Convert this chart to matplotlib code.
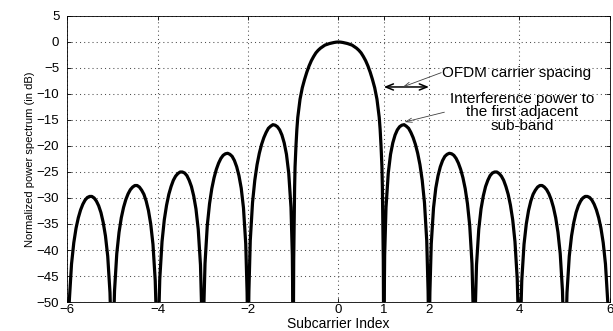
import matplotlib

matplotlib.use("Agg")
import matplotlib.pyplot as plt

plt.rcParams["font.family"] = ["Liberation Sans", "DejaVu Sans"]

# curve: subcarrier index vs normalized power (dB)
# (nulls go below the -50 dB floor and are clipped by the axes)
subcarrier = [
    -6.0, -5.98, -5.95, -5.9, -5.85, -5.8, -5.75, -5.7, -5.65, -5.6, -5.55,
    -5.5, -5.45, -5.4, -5.35, -5.3, -5.25, -5.2, -5.15, -5.1, -5.05, -5.02,
    -5.0, -4.98, -4.95, -4.9, -4.85, -4.8, -4.75, -4.7, -4.65, -4.6, -4.55,
    -4.5, -4.45, -4.4, -4.35, -4.3, -4.25, -4.2, -4.15, -4.1, -4.05, -4.02,
    -4.0, -3.98, -3.95, -3.9, -3.85, -3.8, -3.75, -3.7, -3.65, -3.6, -3.55,
    -3.5, -3.45, -3.4, -3.35, -3.3, -3.25, -3.2, -3.15, -3.1, -3.05, -3.02,
    -3.0, -2.98, -2.95, -2.9, -2.85, -2.8, -2.75, -2.7, -2.65, -2.6, -2.55,
    -2.5, -2.45, -2.4, -2.35, -2.3, -2.25, -2.2, -2.15, -2.1, -2.05, -2.02,
    -2.0, -1.98, -1.95, -1.9, -1.85, -1.8, -1.75, -1.7, -1.65, -1.6, -1.55,
    -1.5, -1.45, -1.4, -1.35, -1.3, -1.25, -1.2, -1.15, -1.1, -1.05, -1.02,
    -1.0, -0.99, -0.97, -0.96, -0.94, -0.92, -0.9, -0.85, -0.8, -0.75, -0.7, -0.65,
    -0.6, -0.55, -0.5, -0.45, -0.4, -0.35, -0.3, -0.25, -0.2, -0.15, -0.1, -0.05,
    0.0,
    0.05, 0.1, 0.15, 0.2, 0.25, 0.3, 0.35, 0.4, 0.45, 0.5, 0.55, 0.6,
    0.65, 0.7, 0.75, 0.8, 0.85, 0.9, 0.92, 0.94, 0.96, 0.97, 0.99,
    1.0, 1.02, 1.05, 1.1, 1.15, 1.2, 1.25, 1.3, 1.35, 1.4, 1.45,
    1.5, 1.55, 1.6, 1.65, 1.7, 1.75, 1.8, 1.85, 1.9, 1.95, 1.98,
    2.0, 2.02, 2.05, 2.1, 2.15, 2.2, 2.25, 2.3, 2.35, 2.4, 2.45,
    2.5, 2.55, 2.6, 2.65, 2.7, 2.75, 2.8, 2.85, 2.9, 2.95, 2.98,
    3.0, 3.02, 3.05, 3.1, 3.15, 3.2, 3.25, 3.3, 3.35, 3.4, 3.45,
    3.5, 3.55, 3.6, 3.65, 3.7, 3.75, 3.8, 3.85, 3.9, 3.95, 3.98,
    4.0, 4.02, 4.05, 4.1, 4.15, 4.2, 4.25, 4.3, 4.35, 4.4, 4.45,
    4.5, 4.55, 4.6, 4.65, 4.7, 4.75, 4.8, 4.85, 4.9, 4.95, 4.98,
    5.0, 5.02, 5.05, 5.1, 5.15, 5.2, 5.25, 5.3, 5.35, 5.4, 5.45,
    5.5, 5.55, 5.6, 5.65, 5.7, 5.75, 5.8, 5.85, 5.9, 5.95, 5.98,
    6.0,
]
power_db = [
    -60, -59.4, -49.9, -42.7, -38.6, -35.8, -33.8, -32.3, -31.2, -30.4, -29.9,
    -29.7, -29.7, -30.0, -30.6, -31.5, -32.8, -34.7, -37.3, -41.2, -48.2, -57.6,
    -60, -57.5, -47.9, -40.7, -36.6, -33.8, -31.8, -30.3, -29.2, -28.4, -27.9,
    -27.6, -27.6, -27.9, -28.5, -29.3, -30.6, -32.4, -35.0, -38.9, -45.9, -55.3,
    -60, -55.2, -45.6, -38.4, -34.2, -31.4, -29.3, -27.8, -26.6, -25.8, -25.3,
    -25.0, -25.0, -25.2, -25.7, -26.6, -27.8, -29.6, -32.1, -36.0, -42.9, -52.3,
    -60, -52.2, -42.6, -35.3, -31.1, -28.2, -26.1, -24.5, -23.3, -22.4, -21.8,
    -21.5, -21.4, -21.6, -22.0, -22.8, -24.0, -25.7, -28.1, -31.9, -38.8, -48.1,
    -60, -47.9, -38.2, -30.9, -26.6, -23.6, -21.4, -19.7, -18.4, -17.4, -16.6,
    -16.2, -15.9, -16.0, -16.3, -16.9, -17.9, -19.4, -21.6, -25.2, -31.8, -41.0,
    -60, -42, -28, -24, -20, -16.8, -14.5, -11, -8.8, -7.2, -5.8, -4.6,
    -3.6, -2.8, -2.1, -1.6, -1.2, -0.9, -0.6, -0.45, -0.3, -0.2, -0.1, -0.03,
    0.0,
    -0.03, -0.1, -0.2, -0.3, -0.45, -0.6, -0.9, -1.2, -1.6, -2.1, -2.8, -3.6,
    -4.6, -5.8, -7.2, -8.8, -11, -14.5, -16.8, -20, -24, -28, -42,
    -60, -41.0, -31.8, -25.2, -21.6, -19.4, -17.9, -16.9, -16.3, -16.0, -15.9,
    -16.2, -16.6, -17.4, -18.4, -19.7, -21.4, -23.6, -26.6, -30.9, -38.2, -47.9,
    -60, -48.1, -38.8, -31.9, -28.1, -25.7, -24.0, -22.8, -22.0, -21.6, -21.4,
    -21.5, -21.8, -22.4, -23.3, -24.5, -26.1, -28.2, -31.1, -35.3, -42.6, -52.2,
    -60, -52.3, -42.9, -36.0, -32.1, -29.6, -27.8, -26.6, -25.7, -25.2, -25.0,
    -25.0, -25.3, -25.8, -26.6, -27.8, -29.3, -31.4, -34.2, -38.4, -45.6, -55.2,
    -60, -55.3, -45.9, -38.9, -35.0, -32.4, -30.6, -29.3, -28.5, -27.9, -27.6,
    -27.6, -27.9, -28.4, -29.2, -30.3, -31.8, -33.8, -36.6, -40.7, -47.9, -57.5,
    -60, -57.6, -48.2, -41.2, -37.3, -34.7, -32.8, -31.5, -30.6, -30.0, -29.7,
    -29.7, -29.9, -30.4, -31.2, -32.3, -33.8, -35.8, -38.6, -42.7, -49.9, -59.4,
    -60,
]
assert len(subcarrier) == len(power_db)

x_ticks = [-6, -4, -2, 0, 1, 2, 4, 6]
y_ticks = [-50, -45, -40, -35, -30, -25, -20, -15, -10, -5, 0, 5]


def _minus(v):
    return str(v).replace("-", "\u2212")


fig = plt.figure(figsize=(6.13, 3.31), dpi=100)
ax = fig.add_axes([0.1093, 0.0876, 0.8858, 0.8641])

ax.plot(subcarrier, power_db, color="black", lw=2.3,
        solid_joinstyle="round", solid_capstyle="round")

ax.set_xlim(-6, 6)
ax.set_ylim(-50, 5)
ax.set_xticks(x_ticks)
ax.set_yticks(y_ticks)
ax.set_xticklabels([_minus(v) for v in x_ticks])
ax.set_yticklabels([_minus(v) for v in y_ticks])
ax.grid(True, linestyle=(0, (1, 3)), color="0.3", lw=0.75)
ax.tick_params(direction="in", length=3, width=0.6, top=True, right=True,
               labelsize=9.5)
ax.tick_params(axis="x", pad=1.5)
ax.tick_params(axis="y", pad=5.5)
for sp in ax.spines.values():
    sp.set_linewidth(0.6)

ax.set_xlabel("Subcarrier Index", fontsize=10, va="center")
ax.xaxis.set_label_coords(0.5, -0.078)
ax.set_ylabel("Normalized power spectrum (in dB)", fontsize=8, labelpad=1)

# carrier spacing double arrow + callouts
ax.annotate("", xy=(1.0, -8.65), xytext=(2.0, -8.65),
            arrowprops=dict(arrowstyle="<->, head_width=0.22, head_length=0.55",
                            color="black", lw=1.1, shrinkA=0, shrinkB=0))
ax.annotate("", xy=(1.42, -8.65), xytext=(2.27, -5.9),
            arrowprops=dict(arrowstyle="->, head_width=0.15, head_length=0.45",
                            color="0.25", lw=0.6, shrinkA=0, shrinkB=0))
ax.text(2.28, -5.95, "OFDM carrier spacing", fontsize=11,
        ha="left", va="center")

ax.annotate("", xy=(1.46, -15.4), xytext=(2.34, -13.5),
            arrowprops=dict(arrowstyle="->, head_width=0.15, head_length=0.45",
                            color="0.25", lw=0.6, shrinkA=0, shrinkB=0))
ax.text(4.06, -13.5, "Interference power to\nthe first adjacent\nsub-band",
        fontsize=11, ha="center", va="center", linespacing=0.95)

fig.savefig("out.png", dpi=100)
